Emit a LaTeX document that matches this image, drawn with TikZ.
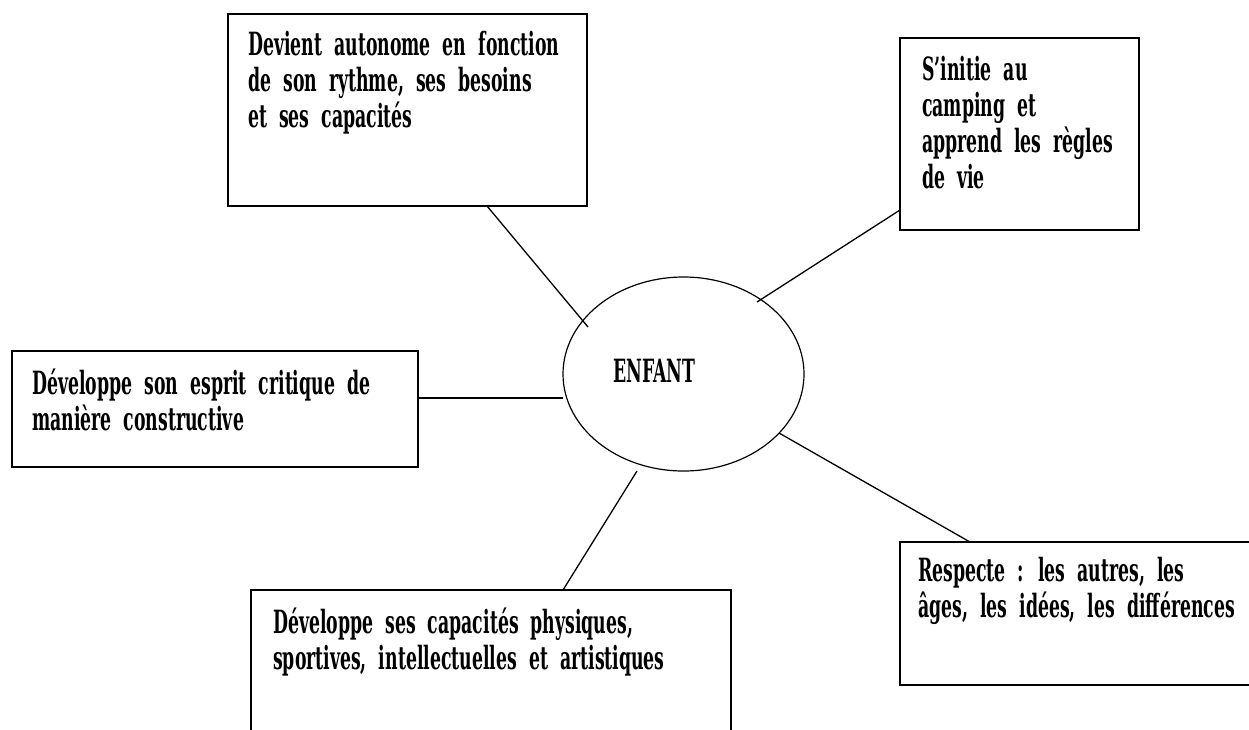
\documentclass[tikz,border=0pt]{standalone}
\usepackage{fontspec}
\setmainfont[FakeStretch=0.54,WordSpace=2]{DejaVu Serif}
\usetikzlibrary{shapes.geometric}
\newcommand\txtlines[1]{\begin{tabular}[t]{@{}l@{}}#1\end{tabular}}
\begin{document}
\begin{tikzpicture}[x=1pt,y=-1pt,
  box/.style={draw, line width=1.4pt, inner sep=0pt, rectangle},
  link/.style={line width=1.3pt},
  txt/.style={anchor=base west, inner sep=0pt, font=\fontsize{32}{36}\selectfont\bfseries}]
\useasboundingbox (0,0) rectangle (1249,729);
\clip (0,0) rectangle (1249,729);
\fill[white] (0,0) rectangle (1249,729);
% boxes
\node[box, minimum width=359pt, minimum height=192pt] (b1) at (407.5,110) {};
\node[box, minimum width=239pt, minimum height=192pt] (b2) at (1019.5,134) {};
\node[box, minimum width=406pt, minimum height=116pt] (b3) at (215,409) {};
\node[box, minimum width=480pt, minimum height=180pt] (b5) at (491,680) {};
\node[box, minimum width=352pt, minimum height=143pt] (b6) at (1076,613.5) {};
\node[draw, ellipse, line width=1.2pt, minimum width=241pt, minimum height=194pt] (e) at (683.5,374) {};
% texts
\node[txt] (t1) at (248,55) {\txtlines{Devient autonome en fonction\\de son rythme, ses besoins\\et ses capacités}};
\node[txt] (t2) at (922,80) {\txtlines{S’initie au\\camping et\\apprend les règles\\de vie}};
\node[txt] (t3) at (32,394) {\txtlines{Développe son esprit critique de\\manière constructive}};
\node[txt] (t5) at (273,633) {\txtlines{Développe ses capacités physiques,\\sportives, intellectuelles et artistiques}};
\node[txt] (t6) at (918,581) {\txtlines{Respecte : les autres, les\\âges, les idées, les différences}};
\node[txt] (te) at (613,382) {ENFANT};
% connector endpoints
\coordinate (c1a) at (487,206);
\coordinate (c1b) at (588,327);
\coordinate (c2a) at (900,210);
\coordinate (c2b) at (757,302);
\coordinate (c3a) at (418,398);
\coordinate (c3b) at (563,398);
\coordinate (c6a) at (970,542);
\coordinate (c6b) at (779,433);
\coordinate (c5a) at (563,590);
\coordinate (c5b) at (637,471);
\draw[link] (c1a) -- (c1b);
\draw[link] (c2a) -- (c2b);
\draw[link] (c3a) -- (c3b);
\draw[link] (c6a) -- (c6b);
\draw[link] (c5a) -- (c5b);
\end{tikzpicture}
\end{document}
